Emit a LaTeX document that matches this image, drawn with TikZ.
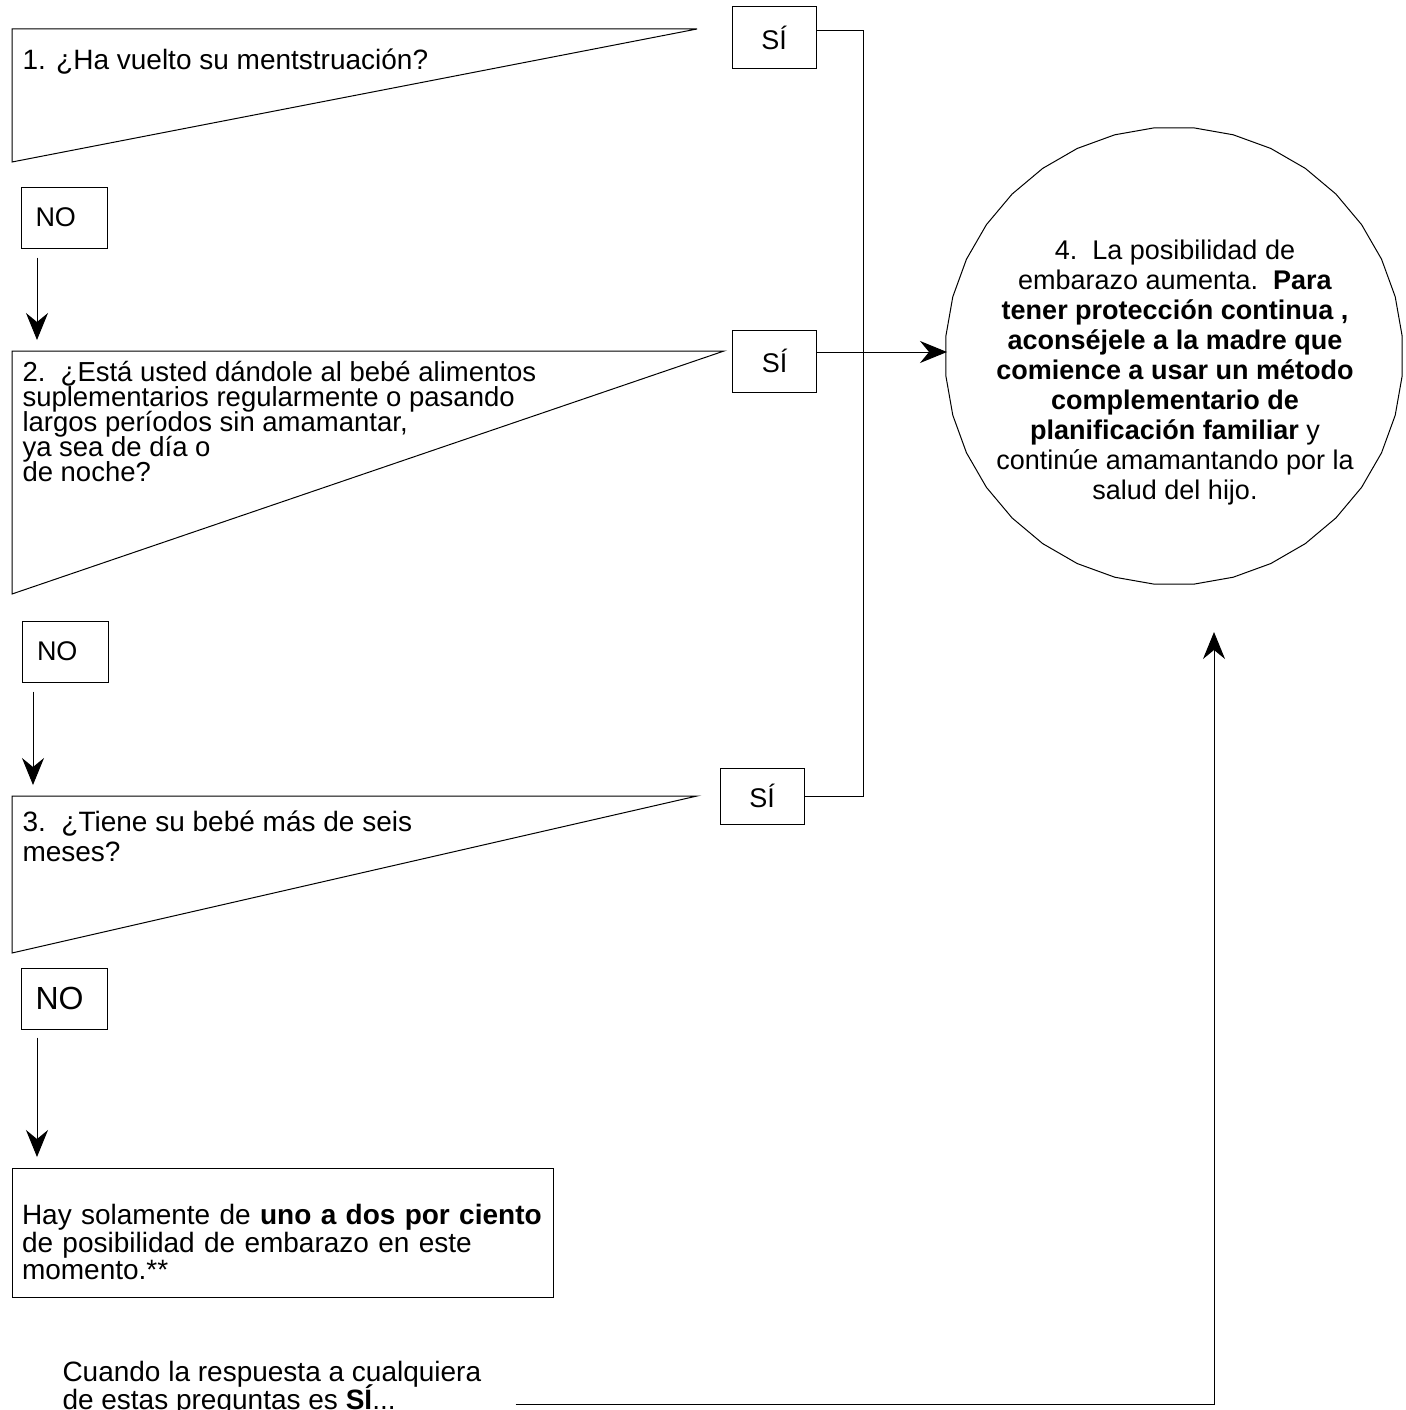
\documentclass[tikz,border=0pt]{standalone}
\usepackage{fontspec}
\setmainfont{Liberation Sans}
\usetikzlibrary{arrows.meta,shapes.geometric}

\newcommand\tightfont[2]{\fontsize{#1}{#2}\selectfont\lineskiplimit-100pt\relax}

\tikzset{
  ask/.style={align=left, inner sep=0pt, anchor=north west, font=\tightfont{28}{24.5}},
  sibox/.style={draw, minimum width=84pt, minimum height=62pt, inner sep=0pt, font=\tightfont{27}{30}},
  nobox/.style={draw, minimum height=61pt, text width=57pt, inner xsep=14.5pt, inner ysep=0pt, align=left, font=\tightfont{27}{30}},
  arr/.style={-{Stealth[length=27pt,width=22pt,inset=9pt]}},
}

\begin{document}
\begin{tikzpicture}[x=1pt, y=-1pt, line width=1pt]
\useasboundingbox (0,0) rectangle (1405,1410);

% question 1
\draw (12,29) -- (697,29) -- (12,162) -- cycle;
\node[ask] (q1) at (22,48) {1. ¿Ha vuelto su mentstruación?};
\node[sibox] (si1) at (774,38) {SÍ};
\node[nobox] (no1) at (64,217.5) {NO};

% question 2
\draw (12,351) -- (724,351) -- (12,594) -- cycle;
\node[ask, font=\tightfont{27.5}{25}] (q2) at (22,361) {2.\ \ ¿Está usted dándole al bebé alimentos\\
  suplementarios regularmente o pasando\\
  largos períodos sin amamantar,\\
  ya sea de día o\\
  de noche?};
\node[sibox] (si2) at (774.5,361) {SÍ};
\node[nobox] (no2) at (65.5,651.5) {NO};

% question 3
\draw (12,796) -- (697,796) -- (12,953) -- cycle;
\node[ask, font=\tightfont{28}{30}] (q3) at (22,810) {3.\ \ ¿Tiene su bebé más de seis\\ meses?};
\node[sibox, minimum height=56pt] (si3) at (762,796) {SÍ};
\node[nobox, font=\tightfont{32}{36}] (no3) at (64,998.5) {NO};

% result
\node[draw, regular polygon, regular polygon sides=36, minimum size=458pt, inner sep=0pt] (res) at (1174,356) {};
\node[align=center, font=\tightfont{27}{30}] (restxt) at (1175,373) {4.\ \ La posibilidad de\\
  embarazo aumenta.\ \ \textbf{Para}\\
  \textbf{tener protección continua ,}\\
  \textbf{aconséjele a la madre que}\\
  \textbf{comience a usar un método}\\
  \textbf{complementario de}\\
  \textbf{planificación familiar} y\\
  continúe amamantando por la\\
  salud del hijo.};

\node[draw, text width=521pt, inner xsep=10pt, minimum height=129pt, align=left, font=\tightfont{28}{27.5}] (low) at (282.5,1232.5) {\rule{0pt}{40pt}Hay solamente de \textbf{uno a dos por ciento}\\
  de posibilidad de embarazo en este\\
  momento.**};

\node[ask, font=\tightfont{28}{28}] (cuando) at (62,1361) {Cuando la respuesta a cualquiera\\
  de estas preguntas es \textbf{SÍ}...};

% connectors
\coordinate (in2) at (37,340);
\coordinate (in3) at (33,785);
\coordinate (in5) at (37,1157);
\coordinate (in4) at (947,352);
\coordinate (jtop) at (863,31);
\coordinate (jbot) at (863,796);
\coordinate (ck) at (517,1404);
\coordinate (back) at (1214,632);

\draw[arr, shorten <=9pt] (no1.south -| in2) -- (in2);
\draw[arr, shorten <=9pt] (no2.south -| in3) -- (in3);
\draw[arr, shorten <=8pt] (no3.south -| in5) -- (in5);
\draw[arr] (si2.east |- in4) -- (in4);
\draw (si1.east |- jtop) -- (jtop) -- (jbot) -- (si3.east);
\draw[arr, shorten <=34pt] (cuando.east |- ck) -| (back);
\end{tikzpicture}
\end{document}
